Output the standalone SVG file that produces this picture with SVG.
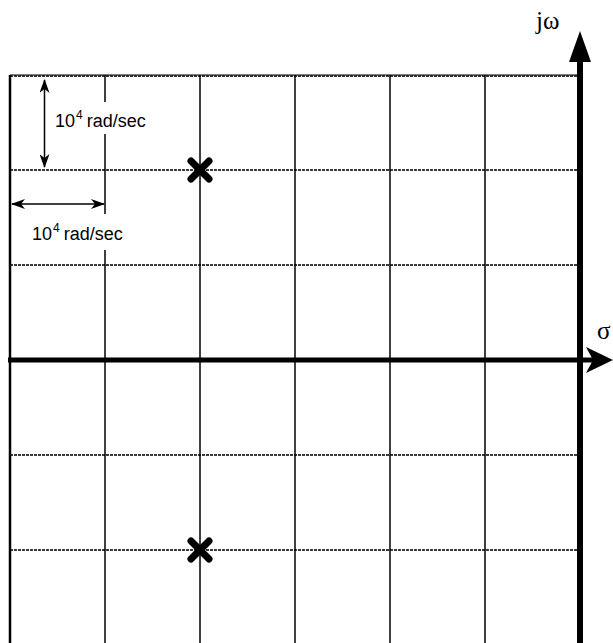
<svg xmlns="http://www.w3.org/2000/svg" width="613" height="643" viewBox="0 0 613 643">
<style>
.grid-h{stroke:#3a3a3a;stroke-width:2;stroke-dasharray:3 1;fill:none}
.grid-v{stroke:#000;stroke-width:1.5;fill:none}
.axis{stroke:#000;stroke-width:5;fill:none}
.pole{stroke:#000;stroke-width:7;stroke-linecap:round;fill:none}
.dim{stroke:#000;stroke-width:1.5;fill:none}
.lbl{font-family:"Liberation Sans",Arial,sans-serif;font-size:18px;fill:#000}
.sup{font-size:12px}
.greek{font-family:"Liberation Serif","Times New Roman",serif;font-size:25px;fill:#000}
</style>
<defs>
<marker id="barb" viewBox="0 0 14 10" refX="13" refY="5" markerWidth="14" markerHeight="10" markerUnits="userSpaceOnUse" orient="auto-start-reverse">
<path d="M0,0 L14,5 L0,10 L4,5 Z" fill="#000"/>
</marker>
</defs>
<rect width="613" height="643" fill="#fff"/>
<g id="grid">
<line class="grid-h" x1="10" y1="76" x2="578" y2="76"/>
<line class="grid-h" x1="10" y1="170" x2="578" y2="170"/>
<line class="grid-h" x1="10" y1="265" x2="578" y2="265"/>
<line class="grid-h" x1="10" y1="455" x2="578" y2="455"/>
<line class="grid-h" x1="10" y1="550" x2="578" y2="550"/>
<line x1="10" y1="75" x2="578" y2="75" stroke="#000" stroke-width="1"/>
<line x1="10" y1="75" x2="10" y2="643" stroke="#000" stroke-width="2.5"/>
<line class="grid-v" x1="105" y1="75" x2="105" y2="643"/>
<line class="grid-v" x1="200" y1="75" x2="200" y2="643"/>
<line class="grid-v" x1="295" y1="75" x2="295" y2="643"/>
<line class="grid-v" x1="390" y1="75" x2="390" y2="643"/>
<line class="grid-v" x1="485" y1="75" x2="485" y2="643"/>
</g>
<g id="sigma-axis">
<line class="axis" x1="8" y1="360" x2="600" y2="360"/>
<path d="M586,347 L613,360 L586,373 L593,360 Z" fill="#000"/>
<text class="greek" x="597" y="339" font-size="28">σ</text>
</g>
<g id="jw-axis">
<line x1="580" y1="58" x2="580" y2="643" stroke="#000" stroke-width="6"/>
<path d="M580,31 L591,62 L569,62 Z" fill="#000"/>
<text class="greek" x="536" y="29">jω</text>
</g>
<g id="pole-upper">
<path class="pole" d="M191,161 L209,179 M209,161 L191,179"/>
</g>
<g id="pole-lower">
<path class="pole" d="M191,541 L209,559 M209,541 L191,559"/>
</g>
<g id="connectors">
<line class="dim" x1="44.5" y1="80" x2="44.5" y2="167" marker-start="url(#barb)" marker-end="url(#barb)"/>
<line class="dim" x1="12" y1="204" x2="104" y2="204" marker-start="url(#barb)" marker-end="url(#barb)"/>
</g>
<g id="label-vertical">
<rect x="53" y="102" width="98" height="32" fill="#fff"/>
<text class="lbl" x="55" y="127">10<tspan class="sup" dx="1" dy="-8">4</tspan><tspan dx="4" dy="8">rad/sec</tspan></text>
</g>
<g id="label-horizontal">
<rect x="30" y="214" width="100" height="36" fill="#fff"/>
<text class="lbl" x="32" y="240">10<tspan class="sup" dx="1" dy="-8">4</tspan><tspan dx="4" dy="8">rad/sec</tspan></text>
</g>
</svg>
